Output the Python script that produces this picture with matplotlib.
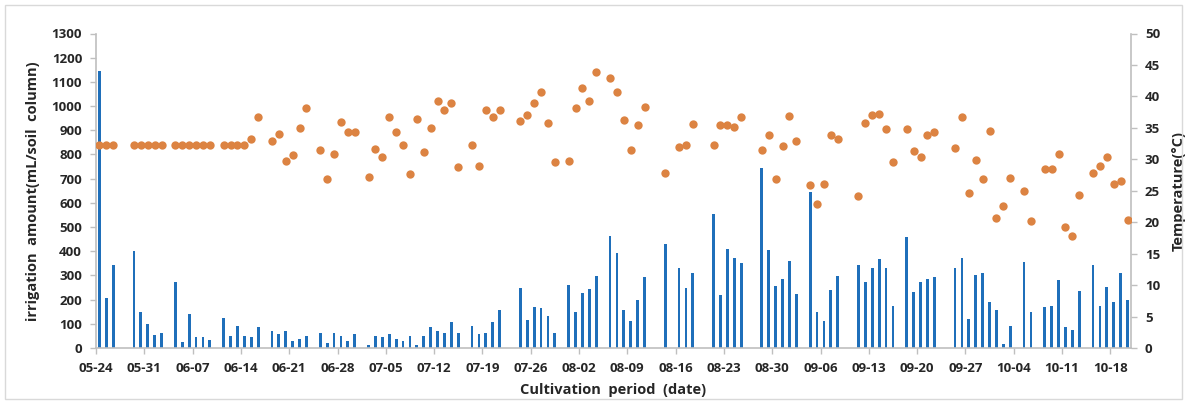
"""Daily irrigation amount (bars) and air temperature (dots) over the cultivation period."""

import numpy as np
import pandas as pd
import matplotlib

matplotlib.use("Agg")
import matplotlib.pyplot as plt
from matplotlib.patches import Rectangle

# one entry per day starting 05-24; 0 / None on days without irrigation
irrigation = [
    1147, 208, 342, 0, 0, 402, 149, 99, 54, 63,
    0, 271, 23, 142, 45, 45, 32, 0, 124, 50,
    89, 50, 44, 88, 0, 69, 56, 69, 30, 37,
    50, 0, 63, 19, 63, 50, 30, 56, 0, 12,
    50, 44, 56, 37, 30, 50, 12, 50, 88, 69,
    63, 106, 63, 0, 92, 56, 63, 106, 157, 0,
    0, 247, 117, 168, 164, 132, 62, 0, 260, 149,
    229, 244, 296, 0, 463, 391, 157, 110, 197, 294,
    0, 0, 430, 0, 331, 248, 309, 0, 0, 554,
    218, 409, 372, 351, 0, 0, 744, 405, 258, 287,
    360, 225, 0, 646, 149, 113, 240, 298, 0, 0,
    345, 271, 331, 367, 331, 175, 0, 459, 232, 271,
    284, 294, 0, 0, 331, 372, 121, 302, 309, 189,
    157, 17, 92, 0, 356, 149, 0, 168, 172, 280,
    88, 73, 236, 0, 343, 175, 254, 189, 311, 200,
]

temperature = [
    32.3, 32.3, 32.3, None, None, 32.3, 32.3, 32.3, 32.3, 32.3,
    None, 32.3, 32.3, 32.3, 32.3, 32.3, 32.3, None, 32.3, 32.3,
    32.3, 32.2, 33.3, 36.7, None, 32.9, 34.0, 29.7, 30.7, 35.0,
    38.2, None, 31.4, 26.9, 30.8, 35.9, 34.3, 34.4, None, 27.2,
    31.7, 30.3, 36.8, 34.3, 32.2, 27.7, 36.4, 31.1, 35.0, 39.3,
    37.8, 38.9, 28.8, None, 32.2, 29.0, 37.9, 36.8, 37.9, None,
    None, 36.1, 37.1, 38.9, 40.7, 35.7, 29.5, None, 29.7, 38.2,
    41.4, 39.2, 43.9, None, 43.0, 40.7, 36.3, 31.5, 35.4, 38.3,
    None, None, 27.8, None, 31.9, 32.2, 35.6, None, None, 32.2,
    35.4, 35.4, 35.1, 36.8, None, None, 31.5, 33.8, 26.9, 32.1,
    36.9, 32.9, None, 25.9, 22.9, 26.1, 33.9, 33.2, None, None,
    24.2, 35.7, 37.1, 37.2, 34.8, 29.5, None, 34.8, 31.3, 30.4,
    33.8, 34.3, None, None, 31.8, 36.8, 24.6, 29.9, 26.8, 34.5,
    20.6, 22.5, 27.1, None, 24.9, 20.2, None, 28.4, 28.4, 30.8,
    19.3, 17.8, 24.3, None, 27.8, 28.9, 30.4, 26.1, 26.6, 20.4,
]

dates = pd.date_range("2000-05-24", periods=len(irrigation), freq="D")
week_labels = [d.strftime("%m-%d") for d in dates[::7]]

BAR_COLOR = "#1f6fba"
DOT_COLOR = "#dc8342"
AXIS_GRAY = "#bfbfbf"
TEXT_COLOR = "#262626"

plt.rcParams["font.family"] = ["Open Sans", "DejaVu Sans"]
plt.rcParams["font.weight"] = "bold"

W, H = 1187, 404
fig = plt.figure(figsize=(W / 100, H / 100), dpi=100)
fig.patches.append(Rectangle((5 / W, 5 / H), (W - 10) / W, (H - 10) / H,
                             transform=fig.transFigure, fill=False,
                             edgecolor="#d9d9d9", linewidth=1))

ax = fig.add_axes([96 / W, 1 - 348 / H, (1131 - 96) / W, (348 - 33.5) / H])
x = np.arange(len(irrigation))
ax.bar(x, irrigation, width=0.42, color=BAR_COLOR)
ax.set_xlim(-0.5, len(irrigation) - 0.5)
ax.set_ylim(0, 1300)
ax.set_yticks(np.arange(0, 1301, 100))
ax.set_xticks(x[::7] - 0.5)
ax.set_xticklabels(week_labels)

ax2 = ax.twinx()
temps = np.array(temperature, dtype=float)
ax2.scatter(x, temps, s=36, color=DOT_COLOR, linewidths=0, zorder=3)
ax2.set_ylim(0, 50)
ax2.set_yticks(np.arange(0, 51, 5))

for a in (ax, ax2):
    a.spines["top"].set_visible(False)
    for side in ("left", "right", "bottom"):
        a.spines[side].set_color(AXIS_GRAY)
        a.spines[side].set_linewidth(1.2)
    a.tick_params(length=4, width=1, color=AXIS_GRAY, labelsize=9.5,
                  labelcolor=TEXT_COLOR, pad=6)
ax.spines["right"].set_visible(False)
ax2.spines["left"].set_visible(False)
ax2.spines["bottom"].set_visible(False)

ax.set_ylabel("irrigation  amount(mL/soil  column)", fontsize=10.5,
              fontweight="bold", color=TEXT_COLOR, labelpad=8)
ax.set_xlabel("Cultivation  period  (date)", fontsize=10.5,
              fontweight="bold", color=TEXT_COLOR, labelpad=6)
ax2.set_ylabel("Temperature(°C)", fontsize=10.5, fontweight="bold",
               color=TEXT_COLOR, labelpad=8)

fig.savefig("out.png", dpi=100)
